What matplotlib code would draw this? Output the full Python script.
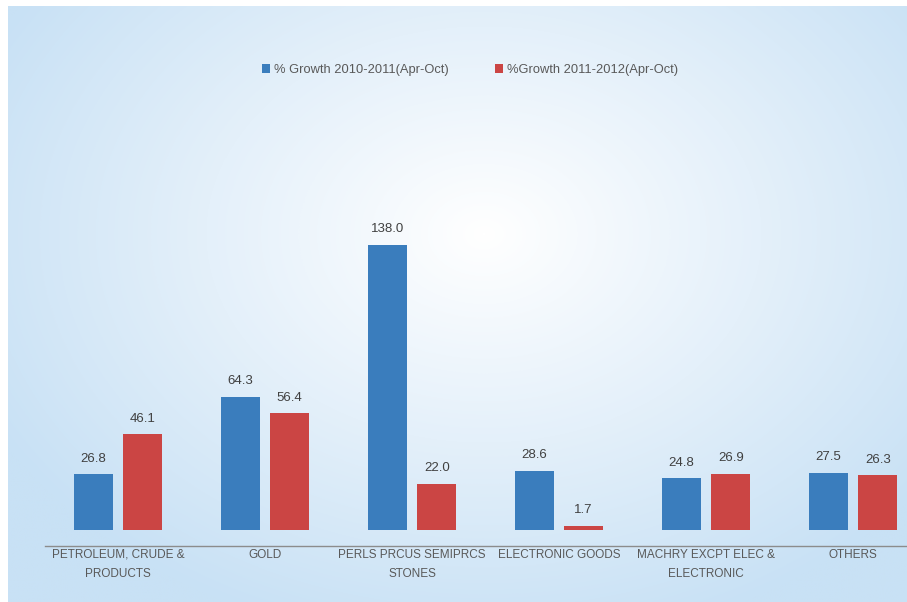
import matplotlib
matplotlib.use("Agg")
import matplotlib.pyplot as plt
import numpy as np
from matplotlib.colors import LinearSegmentedColormap

# Import growth by commodity group, % (Apr-Oct)
categories = ["PETROLEUM, CRUDE &\nPRODUCTS", "GOLD", "PERLS PRCUS SEMIPRCS\nSTONES",
              "ELECTRONIC GOODS", "MACHRY EXCPT ELEC &\nELECTRONIC", "OTHERS"]
growth_1011 = [26.8, 64.3, 138.0, 28.6, 24.8, 27.5]
growth_1112 = [46.1, 56.4, 22.0, 1.7, 26.9, 26.3]
series_names = ["% Growth 2010-2011(Apr-Oct)", "%Growth 2011-2012(Apr-Oct)"]

BLUE = "#3a7dbd"
RED = "#cb4544"
W, H = 907, 602

plt.rcParams['font.family'] = ['Liberation Sans', 'DejaVu Sans']

fig = plt.figure(figsize=(W / 100, H / 100), dpi=100)
fig.patch.set_facecolor("white")

# radial light-blue background
bg = fig.add_axes([8 / W, 0, 1 - 8 / W, 1 - 6 / H])
bg.set_axis_off()
yy, xx = np.mgrid[0:H, 0:W]
d = np.sqrt(((xx - 480) / 560.0) ** 2 + ((yy - 230) / 420.0) ** 2)
d = np.clip(d, 0, 1)
cmap = LinearSegmentedColormap.from_list("bg", ["#ffffff", "#e4f0fa", "#c8e1f5"])
bg.imshow(d, cmap=cmap, aspect="auto", interpolation="bilinear")

# main chart axes (extends past the right edge)
ax = fig.add_axes([44.5 / W, 56 / H, 882 / W, 325.7 / H])
ax.patch.set_alpha(0)
x = np.arange(len(categories))
bw = 0.265
off = 0.168
b1 = ax.bar(x - off, growth_1011, bw, color=BLUE, label=series_names[0])
b2 = ax.bar(x + off, growth_1112, bw, color=RED, label=series_names[1])

for bars, vals in ((b1, growth_1011), (b2, growth_1112)):
    for b, v in zip(bars, vals):
        ax.annotate(f"{v:.1f}", (b.get_x() + b.get_width() / 2, v),
                    xytext=(0, 7), textcoords="offset points",
                    ha="center", va="bottom", fontsize=9.5, color="#404040")

ax.set_xlim(-0.5, len(categories) - 0.5)
ax.set_ylim(-8, 150)
ax.set_xticks(x)
ax.set_xticklabels(categories, fontsize=8.5, color="#595959", linespacing=1.75)
ax.tick_params(axis="x", length=0, pad=2)
ax.set_yticks([])
for s in ("top", "right", "left"):
    ax.spines[s].set_visible(False)
ax.spines["bottom"].set_color("#8c8c8c")
ax.spines["bottom"].set_linewidth(1.0)

leg = fig.legend(handles=[b1, b2], labels=series_names, loc="center",
                 bbox_to_anchor=(470 / W, 1 - 70 / H), ncol=2, frameon=False,
                 fontsize=9.3, handlelength=0.6, handleheight=0.6,
                 handletextpad=0.3, columnspacing=3.6)
for t in leg.get_texts():
    t.set_color("#595959")

fig.savefig("out.png", dpi=100)
